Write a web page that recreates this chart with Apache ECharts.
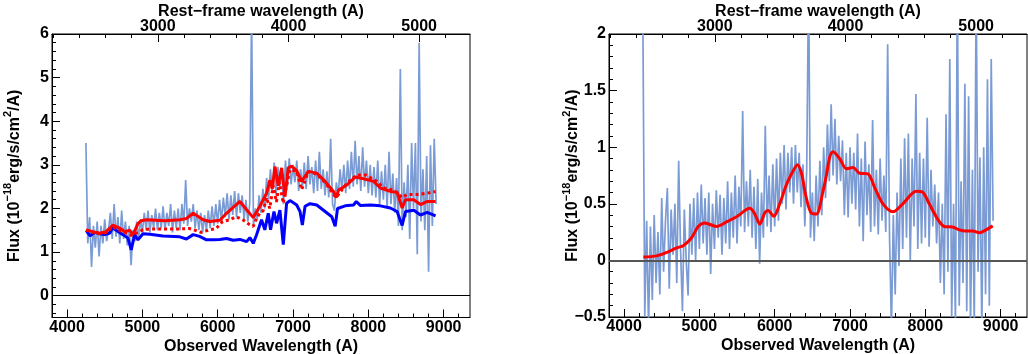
<!DOCTYPE html>
<html>
<head>
<meta charset="utf-8">
<script src="https://cdn.jsdelivr.net/npm/echarts@6/dist/echarts.min.js"></script>
<style>
html,body{margin:0;padding:0;background:#fff;}
#c{width:1028px;height:354px;}
</style>
</head>
<body>
<div id="c"></div>
<script>
// ---------------- data ----------------
const obsMin = 3800, obsMax = 9350;
const restFactor = 1.735;            // observed / rest-frame wavelength
const specStart = 4250, specStep = 25; // spectrum sampling grid (A)

// left panel: observed spectrum (1e-18 erg/s/cm2/A)
const specLeft = [
  3.5, 1.2, 1.8, 0.66, 1.6, 1.1, 1.7, 0.9,
  1.6, 1.2, 1.75, 1.25, 1.5, 1.9, 1.3, 2.1,
  1.35, 1.8, 1.2, 1.95, 1.3, 1.7, 1.15, 1.6,
  0.7, 1.5, 1.25, 1.7, 1.3, 1.75, 1.45, 1.9,
  1.5, 1.95, 1.45, 1.85, 1.55, 2.0, 1.5, 1.9,
  1.55, 2.05, 1.5, 1.9, 1.6, 2.1, 1.45, 1.95,
  1.55, 2.0, 1.5, 2.1, 1.65, 2.65, 1.6, 2.0,
  1.7, 2.1, 1.55, 1.95, 1.5, 1.9, 1.45, 1.85,
  1.5, 1.95, 1.55, 2.05, 1.6, 2.1, 1.65, 2.2,
  1.7, 2.25, 1.8, 2.35, 1.75, 2.3, 1.85, 2.4,
  1.8, 2.35, 1.9, 2.3, 1.75, 2.2, 1.7, 2.1,
  6.5, 1.6, 2.0, 1.75, 2.3, 1.9, 2.45, 2.0,
  2.7, 2.2, 2.9, 2.4, 3.05, 2.3, 2.95, 2.5,
  2.9, 2.1, 3.1, 2.5, 3.15, 2.55, 3.0, 2.6,
  3.1, 2.4, 2.9, 2.5, 3.05, 2.45, 3.2, 2.55,
  2.95, 2.35, 3.1, 2.4, 3.3, 2.45, 2.9, 2.3,
  2.85, 2.25, 3.6, 2.1, 1.95, 2.6, 2.3, 2.9,
  2.4, 3.0, 2.35, 3.1, 2.45, 3.3, 2.5, 3.55,
  2.55, 3.2, 2.4, 3.4, 2.5, 3.1, 2.35, 3.0,
  2.3, 2.95, 2.25, 3.1, 2.1, 2.85, 2.2, 3.0,
  2.0, 3.3, 2.1, 2.8, 1.9, 2.7, 1.6, 5.2,
  1.5, 2.6, 1.8, 3.0, 1.3, 3.5, 2.0, 3.5,
  0.95, 5.8, 1.7, 2.9, 1.5, 3.2, 0.55, 3.45,
  1.6, 3.6, 2.1
];

// right panel: residual spectrum
const specRight = [
  2.1, -0.5, 0.35, -0.6, 0.3, -0.35, 0.4, -0.2,
  0.25, -0.3, 0.55, -0.1, 0.35, 0.64, -0.25, 0.45,
  0.05, 0.5, -0.2, 0.88, 0.1, -0.45, 0.45, 0.0,
  -0.31, 0.5, 0.05, 0.55, 0.0, 0.6, 0.1, 0.67,
  0.15, 0.55, 0.05, 0.6, -0.12, 0.5, 0.1, 0.62,
  0.2, 0.58, 0.05, 0.55, 0.15, 0.7, 0.1, 0.6,
  0.2, 0.75, 0.15, 0.65, 0.3, 1.32, 0.25, 0.7,
  0.3, 0.8, 0.2, 0.65, 0.1, 0.72, -0.03, 0.6,
  0.2, 1.19, 0.3, 0.75, 0.25, 0.85, 0.3, 0.9,
  0.35, 0.95, 0.5, 1.02, 0.45, 0.95, 0.6, 1.0,
  0.5, 1.02, 0.6, 0.95, 0.47, 0.85, 0.3, 0.8,
  2.5, 0.2, 0.6, 0.17, 0.75, 0.3, 0.88, 0.4,
  1.0, 0.55, 1.2, 0.7, 1.38, 0.75, 1.25, 0.67,
  1.1, 0.7, 1.06, 0.4, 0.95, 0.38, 1.0, 0.5,
  0.95, 0.45, 1.12, 0.3, 0.9, 0.17, 1.05, 0.4,
  0.85, 0.25, 1.24, 0.3, 0.8, 0.23, 0.9, 0.35,
  0.75, 0.25, 1.91, 0.2, -0.6, 0.4, -0.3, 0.6,
  -0.05, 0.9, 0.1, 1.08, 0.2, 1.12, 0.0, 0.9,
  0.3, 1.47, 0.1, 0.95, 0.15, 0.9, 0.2, 1.26,
  0.12, 0.8, 0.3, 0.67, 0.15, 0.6, -0.2, 0.5,
  -0.3, 1.29, -0.1, 1.78, -0.5, 0.5, -0.55, 2.5,
  -0.4, 0.7, -0.2, 1.56, -0.45, 1.45, -0.6, 0.8,
  -0.6, 2.5, -0.1, 0.91, -0.6, 1.0, -0.3, 1.6,
  -0.4, 1.78, 0.35
];

// left panel: galaxy (blue) model
const blueWave = [4253,4306,4342,4380,4431,4500,4564,4608,4650,4697,4741,4808,4852,4897,4941,5008,5100,5274,5496,5585,5674,5760,5852,5941,6029,6117,6206,6295,6384,6427,6450,6472,6515,6582,6626,6671,6702,6747,6782,6826,6871,6915,6960,7049,7093,7124,7160,7226,7315,7426,7515,7560,7591,7693,7804,7840,7893,8026,8160,8293,8382,8449,8493,8604,8693,8782,8893];
const blueFlux = [1.50,1.37,1.42,1.45,1.42,1.40,1.43,1.56,1.50,1.45,1.40,1.32,1.05,1.40,1.28,1.42,1.41,1.37,1.35,1.30,1.40,1.36,1.28,1.28,1.29,1.31,1.27,1.29,1.24,1.33,1.27,1.20,1.39,1.74,1.51,1.89,1.51,1.93,1.66,1.96,1.17,2.12,2.18,2.08,1.93,1.62,2.05,2.11,2.08,1.93,1.81,1.59,2.00,2.06,2.08,2.16,2.07,2.08,2.06,2.01,1.93,1.61,1.93,1.96,1.85,1.91,1.83];

// left panel: total model (red solid)
const redWave = [4253,4342,4430,4519,4608,4697,4763,4830,4875,4941,4985,5052,5300,5496,5585,5674,5807,5896,6029,6117,6295,6384,6472,6560,6604,6650,6693,6725,6760,6804,6849,6893,6937,6982,7049,7115,7204,7315,7426,7537,7573,7604,7715,7826,7937,8071,8160,8293,8382,8449,8493,8604,8693,8782,8893];
const redFlux = [1.51,1.47,1.43,1.47,1.62,1.55,1.47,1.50,1.40,1.65,1.72,1.74,1.72,1.74,1.77,1.89,1.74,1.70,1.73,1.89,2.16,1.97,1.79,2.05,2.20,2.35,2.65,2.45,2.96,2.52,2.93,2.27,2.93,2.97,2.87,2.62,2.85,2.81,2.62,2.39,2.25,2.42,2.54,2.72,2.68,2.62,2.47,2.39,2.37,2.01,2.20,2.20,2.09,2.16,2.16];

// left panel: alternative model (red dotted)
const dotWave = [4253,4342,4430,4519,4608,4697,4763,4852,4941,5007,5100,5300,5490,5622,5700,5777,5889,5978,6066,6155,6244,6333,6422,6471,6511,6560,6604,6650,6690,6738,6780,6820,6871,6900,6960,7049,7115,7204,7315,7426,7537,7573,7715,7848,7960,8115,8204,8338,8449,8515,8649,8782,8893];
const dotFlux = [1.50,1.45,1.42,1.45,1.58,1.50,1.45,1.38,1.45,1.51,1.53,1.53,1.53,1.54,1.50,1.45,1.51,1.54,1.70,1.74,1.81,1.74,1.63,1.59,1.75,1.90,1.95,2.25,2.00,2.52,2.15,2.60,2.12,2.40,2.89,2.85,2.43,2.85,2.78,2.60,2.32,2.25,2.58,2.77,2.77,2.62,2.47,2.42,2.25,2.32,2.32,2.35,2.39];

// right panel: smooth residual model (red)
const resWave = [4256,4433,4566,4698,4786,4897,4985,5073,5228,5361,5493,5670,5736,5802,5868,5912,5988,6067,6156,6244,6302,6355,6417,6483,6554,6641,6686,6730,6774,6862,6951,7039,7128,7238,7326,7437,7570,7701,7879,7967,8052,8163,8250,8363,8452,8540,8629,8718,8806,8895];
const resFlux = [0.03,0.04,0.07,0.11,0.13,0.20,0.30,0.33,0.30,0.34,0.385,0.46,0.41,0.32,0.42,0.44,0.39,0.50,0.67,0.79,0.845,0.77,0.56,0.42,0.41,0.61,0.75,0.91,0.96,0.90,0.81,0.82,0.77,0.765,0.645,0.50,0.43,0.50,0.61,0.60,0.50,0.365,0.30,0.295,0.27,0.26,0.26,0.245,0.27,0.305];

// tick labels
const obsLabels = [4000,5000,6000,7000,8000,9000];
const restLabels = [3000,4000,5000];
const leftYLabels = [0,1,2,3,4,5,6];
const rightYLabels = [-0.5,0,0.5,1,1.5,2];

// ---------------- chart ----------------
const FONT = '"Liberation Sans", Arial, Helvetica, sans-serif';
const txt = {fontFamily: FONT, fontWeight: 'bold', fontSize: 16, color: '#000'};

function steps(a, b, s, skip) {
  const out = [];
  for (let v = a; v <= b + 1e-9; v += s) {
    const r = Math.round(v * 1000) / 1000;
    if (skip && Math.abs(r / skip - Math.round(r / skip)) < 1e-6) continue;
    out.push(r);
  }
  return out;
}
const obsMinor = steps(3800, 9200, 200, 1000);
const restMin = obsMin / restFactor, restMax = obsMax / restFactor;
const restMinor = steps(2200, 5200, 200, 1000);

function fmtNum(v) { return v < 0 ? '\u2212' + Math.abs(v) : String(v); }
function fmtInt(v) { return String(Math.round(v)); }

function xAxesFor(g) {
  const line = {show: true, onZero: false, lineStyle: {color: '#000', width: 1}};
  return [
    {type: 'value', gridIndex: g, position: 'bottom', min: obsMin, max: obsMax,
     axisLine: line,
     axisTick: {show: true, inside: true, length: 8, customValues: obsLabels, lineStyle: {color: '#000'}},
     axisLabel: Object.assign({show: true, customValues: obsLabels, margin: 2, formatter: fmtInt}, txt),
     splitLine: {show: false},
     name: 'Observed Wavelength (A)', nameLocation: 'middle', nameGap: 21, nameMoveOverlap: false,
     nameTextStyle: Object.assign({}, txt)},
    {type: 'value', gridIndex: g, position: 'bottom', min: obsMin, max: obsMax,
     axisLine: {show: false, onZero: false},
     axisTick: {show: true, inside: true, length: 4, customValues: obsMinor, lineStyle: {color: '#000'}},
     axisLabel: {show: false}, splitLine: {show: false}},
    {type: 'value', gridIndex: g, position: 'top', min: restMin, max: restMax,
     axisLine: line,
     axisTick: {show: true, inside: true, length: 8, customValues: restLabels, lineStyle: {color: '#000'}},
     axisLabel: Object.assign({show: true, customValues: restLabels, margin: -1, formatter: fmtInt}, txt),
     splitLine: {show: false},
     name: 'Rest\u2212frame wavelength (A)', nameLocation: 'middle', nameGap: 14, nameMoveOverlap: false,
     nameTextStyle: Object.assign({}, txt)},
    {type: 'value', gridIndex: g, position: 'top', min: restMin, max: restMax,
     axisLine: {show: false, onZero: false},
     axisTick: {show: true, inside: true, length: 4, customValues: restMinor, lineStyle: {color: '#000'}},
     axisLabel: {show: false}, splitLine: {show: false}}
  ];
}

const yName = '{t|Flux (10}{s|\u221218}{t|erg/s/cm}{s|2}{t|/A)}';
const yNameStyle = Object.assign({}, txt, {
  rich: {
    t: {fontFamily: FONT, fontWeight: 'bold', fontSize: 16, color: '#000', lineHeight: 20, verticalAlign: 'bottom'},
    s: {fontFamily: FONT, fontWeight: 'bold', fontSize: 11, color: '#000', lineHeight: 13, verticalAlign: 'top'}
  }
});

function yAxesFor(g, min, max, labels, minor, gap) {
  return [
    {type: 'value', gridIndex: g, position: 'left', min: min, max: max,
     axisLine: {show: true, onZero: false, lineStyle: {color: '#000', width: 1}},
     axisTick: {show: true, inside: true, length: 8, customValues: labels, lineStyle: {color: '#000'}},
     axisLabel: Object.assign({show: true, customValues: labels, margin: 3, formatter: fmtNum}, txt),
     splitLine: {show: false},
     name: yName, nameLocation: 'middle', nameRotate: 90, nameGap: gap, nameMoveOverlap: false,
     nameTextStyle: yNameStyle},
    {type: 'value', gridIndex: g, position: 'left', min: min, max: max,
     axisLine: {show: false, onZero: false},
     axisTick: {show: true, inside: true, length: 4, customValues: minor, lineStyle: {color: '#000'}},
     axisLabel: {show: false}, splitLine: {show: false}}
  ];
}

const pairs = (w, f) => w.map((x, i) => [x, f[i]]);
const specPairs = arr => arr.map((f, i) => [specStart + i * specStep, f]);

const SPEC_COLOR = '#7b9bd5';

const option = {
  animation: false,
  backgroundColor: '#fff',
  grid: [
    {left: 52, top: 34, width: 418, height: 283.5, show: true, borderColor: '#000', borderWidth: 1,
     backgroundColor: 'transparent', outerBoundsMode: 'none', containLabel: false},
    {left: 609, top: 34, width: 418, height: 283, show: true, borderColor: '#000', borderWidth: 1,
     backgroundColor: 'transparent', outerBoundsMode: 'none', containLabel: false}
  ],
  xAxis: xAxesFor(0).concat(xAxesFor(1)),
  yAxis: yAxesFor(0, -0.5, 6, leftYLabels, steps(-0.4, 5.8, 0.2, 1), 29.5)
    .concat(yAxesFor(1, -0.5, 2, rightYLabels, steps(-0.4, 1.9, 0.1, 0.5), 28)),
  series: [
    {type: 'line', xAxisIndex: 0, yAxisIndex: 0, data: specPairs(specLeft), symbol: 'none',
     lineStyle: {color: SPEC_COLOR, width: 1.7}, z: 2, clip: true,
     markLine: {silent: true, symbol: ['none', 'none'], label: {show: false},
       lineStyle: {color: '#000', width: 1, type: 'solid'}, data: [{yAxis: 0}]}},
    {type: 'line', xAxisIndex: 0, yAxisIndex: 0, data: pairs(blueWave, blueFlux), symbol: 'none',
     lineStyle: {color: '#0000ff', width: 3}, z: 3},
    {type: 'line', xAxisIndex: 0, yAxisIndex: 0, data: pairs(dotWave, dotFlux), symbol: 'none',
     lineStyle: {color: '#ff0000', width: 3, type: [3, 3]}, z: 4},
    {type: 'line', xAxisIndex: 0, yAxisIndex: 0, data: pairs(redWave, redFlux), symbol: 'none',
     lineStyle: {color: '#ff0000', width: 3}, z: 5},

    {type: 'line', xAxisIndex: 4, yAxisIndex: 2, data: specPairs(specRight), symbol: 'none',
     lineStyle: {color: SPEC_COLOR, width: 1.7}, z: 2, clip: true,
     markLine: {silent: true, symbol: ['none', 'none'], label: {show: false},
       lineStyle: {color: '#555', width: 2, type: 'solid'}, data: [{yAxis: 0}]}},
    {type: 'line', xAxisIndex: 4, yAxisIndex: 2, data: pairs(resWave, resFlux), symbol: 'none',
     smooth: 0.3, lineStyle: {color: '#ff0000', width: 3}, z: 5}
  ]
};

const chart = echarts.init(document.getElementById('c'), null, {renderer: 'canvas'});
chart.setOption(option);
</script>
</body>
</html>
